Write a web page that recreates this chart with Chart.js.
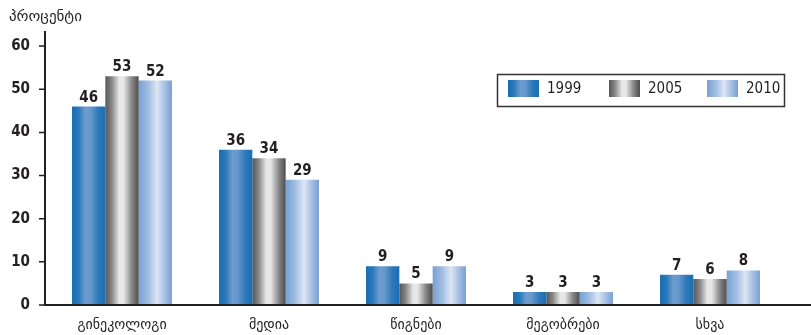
<!DOCTYPE html>
<html><head><meta charset="utf-8">
<script src="https://cdn.jsdelivr.net/npm/chart.js@4.4.0/dist/chart.umd.min.js"></script>
<style>html,body{margin:0;padding:0;background:#fff}#wrap{width:811px;height:335px;position:relative}</style>
</head><body><div id="wrap"><canvas id="c" width="811" height="335"></canvas></div>
<script>
const categories = ['გინეკოლოგი','მედია','წიგნები','მეგობრები','სხვა'];
const seriesNames = ['1999','2005','2010'];
const values1999 = [46,36,9,3,7];
const values2005 = [53,34,5,3,6];
const values2010 = [52,29,9,3,8];
const yTicks = [0,10,20,30,40,50,60];
const yTitle = 'პროცენტი';

const gradStops = [
  [[0,'#166db2'],[0.2,'#2b79ba'],[0.4,'#6e9ccf'],[0.55,'#6898cc'],[0.8,'#2b78b9'],[1,'#1a6eb2']],
  [[0,'#555555'],[0.2,'#8a8a8a'],[0.42,'#e8e8e8'],[0.55,'#e6e6e6'],[0.8,'#858585'],[1,'#4d4d4d']],
  [[0,'#76a0d3'],[0.3,'#a3bfe3'],[0.55,'#dde6f3'],[0.72,'#b5c9e8'],[1,'#789fd2']]
];
const INK = '#231f20';
const TICKFONT = 'bold 15px "DejaVu Sans Condensed", "DejaVu Sans", sans-serif';

function makeGrad(ctx, x0, x1, stops){
  const g = ctx.createLinearGradient(x0,0,x1,0);
  stops.forEach(s=>g.addColorStop(s[0],s[1]));
  return g;
}

const gradientPlugin = {
  id:'grad',
  beforeDatasetsDraw(chart){
    const ctx = chart.ctx;
    chart.data.datasets.forEach((ds,di)=>{
      const meta = chart.getDatasetMeta(di);
      meta.data.forEach(el=>{
        const w = el.width;
        const g = makeGrad(ctx, el.x-w/2, el.x+w/2, gradStops[di]);
        el.options = Object.assign({}, el.options, {backgroundColor:g});
      });
    });
  },
  afterDatasetsDraw(chart){
    const ctx = chart.ctx;
    const ys = chart.scales.y;
    ctx.save();
    ctx.font = TICKFONT;
    ctx.fillStyle = INK;
    ctx.textAlign = 'center';
    ctx.textBaseline = 'alphabetic';
    chart.data.datasets.forEach((ds,di)=>{
      const meta = chart.getDatasetMeta(di);
      meta.data.forEach((el,i)=>{
        ctx.fillText(String(ds.data[i]), el.x, el.y-5);
      });
    });
    const y0 = ys.getPixelForValue(0);
    ctx.strokeStyle = INK;
    ctx.lineWidth = 2;
    ctx.beginPath();
    ctx.moveTo(45, chart.chartArea.top);
    ctx.lineTo(45, y0+1);
    ctx.moveTo(44, y0);
    ctx.lineTo(811, y0);
    ctx.stroke();
    ctx.lineWidth = 1.5;
    ctx.beginPath();
    yTicks.forEach(v=>{
      const p = ys.getPixelForValue(v);
      ctx.moveTo(39,p); ctx.lineTo(45,p);
    });
    ctx.stroke();
    ctx.font = '15px "DejaVu Sans", sans-serif';
    ctx.textAlign = 'left';
    ctx.textBaseline = 'middle';
    ctx.fillText(yTitle, 9, 17);
    ctx.lineWidth = 1.5;
    ctx.strokeStyle = '#333';
    ctx.strokeRect(497.5, 74.5, 287, 32);
    const sw = [508, 609, 707];
    ctx.font = '15px "DejaVu Sans Condensed", "DejaVu Sans", sans-serif';
    seriesNames.forEach((n,i)=>{
      ctx.fillStyle = makeGrad(ctx, sw[i], sw[i]+31, gradStops[i]);
      ctx.fillRect(sw[i], 80, 31, 17);
      ctx.fillStyle = INK;
      ctx.fillText(n, sw[i]+39, 89);
    });
    ctx.restore();
  }
};

new Chart(document.getElementById('c'), {
  type:'bar',
  data:{
    labels: categories,
    datasets:[
      {label:seriesNames[0], data:values1999, backgroundColor:'#166db2', borderWidth:0},
      {label:seriesNames[1], data:values2005, backgroundColor:'#888888', borderWidth:0},
      {label:seriesNames[2], data:values2010, backgroundColor:'#a3bfe3', borderWidth:0}
    ]
  },
  options:{
    responsive:false,
    animation:false,
    devicePixelRatio:1,
    layout:{padding:{top:31,right:27.5,bottom:0,left:0}},
    datasets:{bar:{categoryPercentage:0.68, barPercentage:1}},
    plugins:{legend:{display:false}, tooltip:{enabled:false}},
    scales:{
      y:{
        min:0, max:63.5,
        afterBuildTicks(s){ s.ticks = yTicks.map(v=>({value:v})); },
        afterFit(s){ s.width = 48.5; },
        grid:{display:false},
        border:{display:false},
        ticks:{font:{family:'"DejaVu Sans Condensed", "DejaVu Sans", sans-serif', size:15, weight:'bold'}, color:INK, padding:10.5}
      },
      x:{
        afterFit(s){ s.height = 30; },
        grid:{display:false},
        border:{display:false},
        ticks:{font:{family:'"DejaVu Sans", sans-serif', size:14}, color:INK, padding:4}
      }
    }
  },
  plugins:[gradientPlugin]
});
</script>
</body></html>
